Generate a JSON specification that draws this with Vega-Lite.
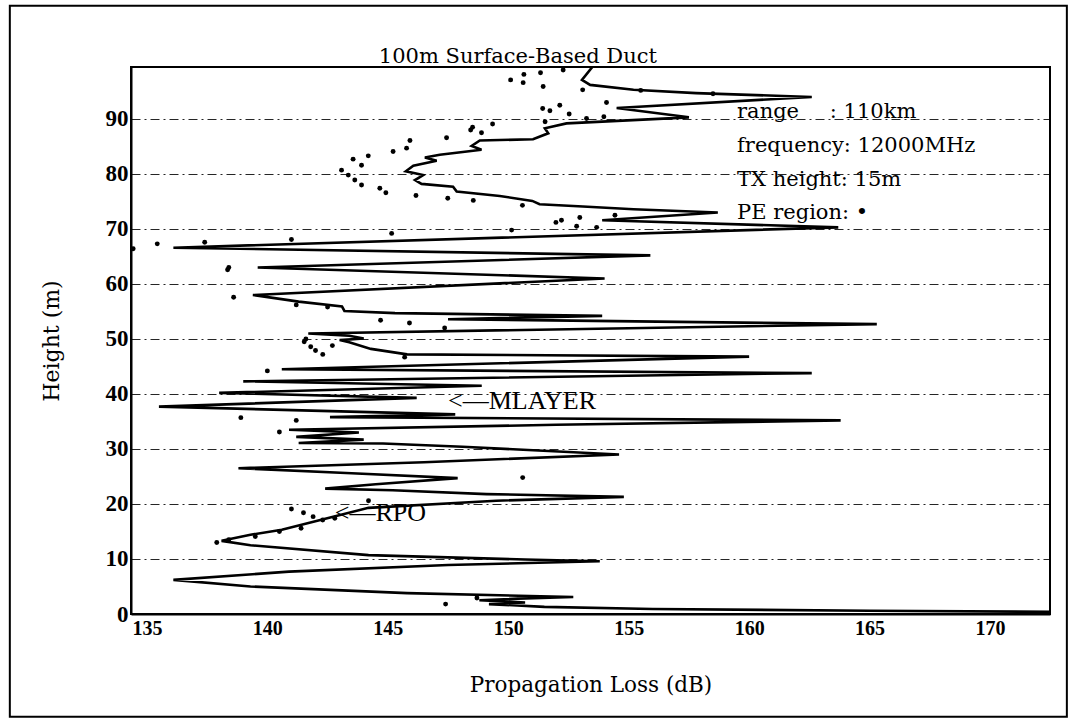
{
  "$schema": "https://vega.github.io/schema/vega-lite/v6.json",
  "width": 919,
  "height": 547,
  "autosize": {"type": "none"},
  "padding": {"left": 131, "top": 67, "right": 23, "bottom": 109},
  "background": "white",
  "config": {
    "font": "DejaVu Serif",
    "view": {"stroke": "black", "strokeWidth": 2},
    "axis": {"labelColor": "black", "titleColor": "black", "domainColor": "black", "tickColor": "black", "titleFontWeight": "normal"}
  },
  "datasets": {
    "curve": [
      {"s": 1, "loss": 176, "h": 0.3}, {"s": 2, "loss": 165, "h": 0.6}, {"s": 3, "loss": 156, "h": 0.9},
      {"s": 4, "loss": 151.5, "h": 1.3}, {"s": 5, "loss": 149.2, "h": 1.8}, {"s": 6, "loss": 150.7, "h": 2.1},
      {"s": 7, "loss": 148.8, "h": 2.5}, {"s": 8, "loss": 150.4, "h": 2.8}, {"s": 9, "loss": 152.7, "h": 3.1},
      {"s": 10, "loss": 145.8, "h": 3.8}, {"s": 11, "loss": 139.3, "h": 5.0}, {"s": 12, "loss": 136.1, "h": 6.2},
      {"s": 13, "loss": 140.9, "h": 7.7}, {"s": 14, "loss": 147.5, "h": 8.9}, {"s": 15, "loss": 153.8, "h": 9.6},
      {"s": 16, "loss": 150.7, "h": 9.9}, {"s": 17, "loss": 144.2, "h": 10.7}, {"s": 18, "loss": 139.3, "h": 12.5},
      {"s": 19, "loss": 138.1, "h": 13.3}, {"s": 20, "loss": 139.3, "h": 14.4}, {"s": 21, "loss": 140.6, "h": 15.3},
      {"s": 22, "loss": 142.2, "h": 17.1}, {"s": 23, "loss": 144.2, "h": 19.3}, {"s": 24, "loss": 149.5, "h": 20.6},
      {"s": 25, "loss": 154.8, "h": 21.3}, {"s": 26, "loss": 149.1, "h": 21.8}, {"s": 27, "loss": 145.2, "h": 22.5},
      {"s": 28, "loss": 142.4, "h": 22.8}, {"s": 29, "loss": 144.5, "h": 23.6}, {"s": 30, "loss": 147.9, "h": 24.7},
      {"s": 31, "loss": 143.5, "h": 25.6}, {"s": 32, "loss": 138.8, "h": 26.5}, {"s": 33, "loss": 146.5, "h": 27.6},
      {"s": 34, "loss": 154.6, "h": 29.0}, {"s": 35, "loss": 148.1, "h": 30.4}, {"s": 36, "loss": 144.8, "h": 31.0},
      {"s": 37, "loss": 141.3, "h": 31.1}, {"s": 38, "loss": 144.0, "h": 31.7}, {"s": 39, "loss": 141.2, "h": 32.2},
      {"s": 40, "loss": 143.8, "h": 33.0}, {"s": 41, "loss": 140.9, "h": 33.5}, {"s": 42, "loss": 152.0, "h": 34.4},
      {"s": 43, "loss": 163.8, "h": 35.2}, {"s": 44, "loss": 142.6, "h": 35.8}, {"s": 45, "loss": 147.8, "h": 36.3},
      {"s": 46, "loss": 135.5, "h": 37.7}, {"s": 47, "loss": 146.2, "h": 39.3}, {"s": 48, "loss": 138.0, "h": 40.2},
      {"s": 49, "loss": 148.9, "h": 41.5}, {"s": 50, "loss": 139.0, "h": 42.3}, {"s": 51, "loss": 162.6, "h": 43.8},
      {"s": 52, "loss": 140.6, "h": 44.5}, {"s": 53, "loss": 160.0, "h": 46.8}, {"s": 54, "loss": 145.8, "h": 47.2},
      {"s": 55, "loss": 144.3, "h": 48.2}, {"s": 56, "loss": 143.4, "h": 49.4}, {"s": 57, "loss": 143.0, "h": 49.8},
      {"s": 58, "loss": 144.0, "h": 50.1}, {"s": 59, "loss": 143.4, "h": 50.6}, {"s": 60, "loss": 141.7, "h": 51.0},
      {"s": 61, "loss": 165.3, "h": 52.7}, {"s": 62, "loss": 147.5, "h": 53.6}, {"s": 63, "loss": 153.9, "h": 54.2},
      {"s": 64, "loss": 145.3, "h": 54.7}, {"s": 65, "loss": 143.2, "h": 55.1}, {"s": 66, "loss": 143.1, "h": 55.9},
      {"s": 67, "loss": 141.3, "h": 56.8}, {"s": 68, "loss": 139.4, "h": 58.0}, {"s": 69, "loss": 154.0, "h": 61.0},
      {"s": 70, "loss": 139.6, "h": 63.0}, {"s": 71, "loss": 155.9, "h": 65.2}, {"s": 72, "loss": 136.1, "h": 66.6},
      {"s": 73, "loss": 163.7, "h": 70.3}, {"s": 74, "loss": 153.9, "h": 71.6}, {"s": 75, "loss": 158.7, "h": 73.0},
      {"s": 76, "loss": 155.2, "h": 73.6}, {"s": 77, "loss": 153.1, "h": 74.1}, {"s": 78, "loss": 151.3, "h": 74.5},
      {"s": 79, "loss": 151.0, "h": 75.1}, {"s": 80, "loss": 149.65, "h": 76.0}, {"s": 81, "loss": 147.86, "h": 76.8},
      {"s": 82, "loss": 147.71, "h": 77.7}, {"s": 83, "loss": 146.4, "h": 78.2}, {"s": 84, "loss": 146.13, "h": 78.9},
      {"s": 85, "loss": 146.47, "h": 79.8}, {"s": 86, "loss": 145.75, "h": 80.5}, {"s": 87, "loss": 146.06, "h": 81.5},
      {"s": 88, "loss": 147.03, "h": 82.4}, {"s": 89, "loss": 146.54, "h": 83.0}, {"s": 90, "loss": 147.16, "h": 83.5},
      {"s": 91, "loss": 148.89, "h": 84.4}, {"s": 92, "loss": 148.48, "h": 85.1}, {"s": 93, "loss": 148.82, "h": 86.1},
      {"s": 94, "loss": 151.03, "h": 86.3}, {"s": 95, "loss": 151.66, "h": 87.4}, {"s": 96, "loss": 151.52, "h": 88.3},
      {"s": 97, "loss": 152.42, "h": 89.2}, {"s": 98, "loss": 157.5, "h": 90.3}, {"s": 99, "loss": 154.5, "h": 92.0},
      {"s": 100, "loss": 162.6, "h": 94.0}, {"s": 101, "loss": 157.8, "h": 94.7}, {"s": 102, "loss": 155.2, "h": 95.3},
      {"s": 103, "loss": 153.4, "h": 96.2}, {"s": 104, "loss": 153.06, "h": 97.1}, {"s": 105, "loss": 153.5, "h": 99.5},
      {"s": 106, "loss": 154.5, "h": 101}
    ],
    "pe": [
      {"loss": 150.1, "h": 97.1}, {"loss": 150.65, "h": 98.1}, {"loss": 150.62, "h": 96.6}, {"loss": 151.34, "h": 98.4},
      {"loss": 151.45, "h": 95.9}, {"loss": 152.28, "h": 98.9}, {"loss": 153.09, "h": 95.3}, {"loss": 154.08, "h": 93.0},
      {"loss": 151.43, "h": 91.9}, {"loss": 151.73, "h": 91.5}, {"loss": 152.14, "h": 92.5}, {"loss": 152.53, "h": 90.9},
      {"loss": 153.25, "h": 90.1}, {"loss": 153.97, "h": 90.4}, {"loss": 151.53, "h": 89.5}, {"loss": 149.35, "h": 89.1},
      {"loss": 148.52, "h": 88.5}, {"loss": 148.44, "h": 88.0}, {"loss": 148.89, "h": 87.5}, {"loss": 147.44, "h": 86.6},
      {"loss": 145.92, "h": 86.1}, {"loss": 145.78, "h": 84.7}, {"loss": 145.22, "h": 84.1}, {"loss": 144.19, "h": 83.3},
      {"loss": 143.56, "h": 82.7}, {"loss": 143.91, "h": 81.6}, {"loss": 143.08, "h": 80.7}, {"loss": 143.36, "h": 79.8},
      {"loss": 143.63, "h": 78.9}, {"loss": 143.91, "h": 78.0}, {"loss": 144.67, "h": 77.4}, {"loss": 144.92, "h": 76.6},
      {"loss": 146.17, "h": 76.1}, {"loss": 147.49, "h": 75.6}, {"loss": 148.55, "h": 75.2}, {"loss": 150.59, "h": 74.3},
      {"loss": 151.98, "h": 71.2}, {"loss": 152.21, "h": 71.6}, {"loss": 152.97, "h": 72.1}, {"loss": 152.84, "h": 70.5},
      {"loss": 153.67, "h": 70.3}, {"loss": 154.43, "h": 72.5}, {"loss": 150.14, "h": 69.8}, {"loss": 145.16, "h": 69.2},
      {"loss": 155.5, "h": 95.2}, {"loss": 158.5, "h": 94.6},
      {"loss": 134.43, "h": 66.4}, {"loss": 135.43, "h": 67.3}, {"loss": 137.4, "h": 67.6}, {"loss": 141.0, "h": 68.1},
      {"loss": 138.4, "h": 63.0}, {"loss": 138.35, "h": 62.6}, {"loss": 138.6, "h": 57.6}, {"loss": 141.2, "h": 56.2},
      {"loss": 142.5, "h": 55.8}, {"loss": 144.7, "h": 53.4}, {"loss": 145.9, "h": 52.9}, {"loss": 147.36, "h": 52.0},
      {"loss": 141.6, "h": 50.0}, {"loss": 141.53, "h": 49.5}, {"loss": 141.8, "h": 48.6}, {"loss": 142.0, "h": 47.9},
      {"loss": 142.3, "h": 47.2}, {"loss": 142.7, "h": 48.8}, {"loss": 140.0, "h": 44.2}, {"loss": 145.7, "h": 46.7},
      {"loss": 138.9, "h": 35.7}, {"loss": 141.2, "h": 35.2}, {"loss": 140.5, "h": 33.1}, {"loss": 150.6, "h": 24.8},
      {"loss": 144.2, "h": 20.6}, {"loss": 141.0, "h": 19.1}, {"loss": 141.5, "h": 18.4}, {"loss": 141.9, "h": 17.7},
      {"loss": 142.3, "h": 17.1}, {"loss": 142.8, "h": 17.4}, {"loss": 147.4, "h": 1.8}, {"loss": 148.7, "h": 2.9},
      {"loss": 137.9, "h": 13.0}, {"loss": 138.4, "h": 13.5}, {"loss": 139.5, "h": 14.1}, {"loss": 140.5, "h": 15.0},
      {"loss": 141.4, "h": 15.6}
    ],
    "notes": [
      {"label": "range", "x": 159.5, "y": 91.3},
      {"label": ": 110km", "x": 163.35, "y": 91.3},
      {"label": "frequency: 12000MHz", "x": 159.5, "y": 85.0},
      {"label": "TX height: 15m", "x": 159.5, "y": 78.9},
      {"label": "PE region: •", "x": 159.5, "y": 72.85}
    ],
    "markers": [
      {"label": "<—MLAYER", "x": 147.5, "y": 38.7},
      {"label": "<—RPO", "x": 142.8, "y": 18.3}
    ],
    "heading": [
      {"label": "100m Surface-Based Duct", "x": 150.4, "y": 101.2}
    ]
  },
  "layer": [
    {
      "data": {"name": "curve"},
      "mark": {"type": "line", "color": "black", "strokeWidth": 2.6, "clip": true},
      "encoding": {
        "x": {
          "field": "loss", "type": "quantitative",
          "scale": {"domain": [134.34, 172.49], "nice": false, "zero": false},
          "axis": {
            "title": "Propagation Loss (dB)", "values": [135, 140, 145, 150, 155, 160, 165, 170],
            "grid": false, "ticks": false, "domainWidth": 2,
            "labelFont": "Liberation Serif", "labelFontWeight": "bold", "labelFontSize": 20, "labelPadding": 4,
            "labelFlush": false, "titleFontSize": 21.5, "titlePadding": 36
          }
        },
        "y": {
          "field": "h", "type": "quantitative",
          "scale": {"domain": [0, 99.45], "nice": false},
          "axis": {
            "title": "Height (m)", "values": [0, 10, 20, 30, 40, 50, 60, 70, 80, 90],
            "grid": true, "gridColor": "black", "gridDash": [9, 4, 2, 4], "gridWidth": 1, "gridOpacity": 0.85,
            "ticks": false, "domainWidth": 2,
            "labelFont": "Liberation Serif", "labelFontWeight": "bold", "labelFontSize": 23, "labelPadding": 3, "labelFlush": false,
            "titleFontSize": 22, "titlePadding": 42
          }
        },
        "order": {"field": "s", "type": "quantitative"}
      }
    },
    {
      "data": {"name": "pe"},
      "mark": {"type": "circle", "color": "black", "size": 24, "opacity": 1, "clip": true},
      "encoding": {
        "x": {"field": "loss", "type": "quantitative"},
        "y": {"field": "h", "type": "quantitative"}
      }
    },
    {
      "data": {"name": "notes"},
      "mark": {"type": "text", "align": "left", "baseline": "middle", "fontSize": 21, "color": "black"},
      "encoding": {
        "x": {"field": "x", "type": "quantitative"},
        "y": {"field": "y", "type": "quantitative"},
        "text": {"field": "label"}
      }
    },
    {
      "data": {"name": "markers"},
      "mark": {"type": "text", "align": "left", "baseline": "middle", "font": "Liberation Serif", "fontSize": 26, "color": "black"},
      "encoding": {
        "x": {"field": "x", "type": "quantitative"},
        "y": {"field": "y", "type": "quantitative"},
        "text": {"field": "label"}
      }
    },
    {
      "data": {"name": "heading"},
      "mark": {"type": "text", "align": "center", "baseline": "middle", "fontSize": 21, "color": "black", "clip": false},
      "encoding": {
        "x": {"field": "x", "type": "quantitative"},
        "y": {"field": "y", "type": "quantitative"},
        "text": {"field": "label"}
      }
    },
    {
      "data": {"values": [{}]},
      "mark": {"type": "rect", "filled": false, "stroke": "black", "strokeWidth": 2, "clip": false},
      "encoding": {
        "x": {"datum": 129.31, "type": "quantitative"},
        "x2": {"datum": 173.19},
        "y": {"datum": -18.7, "type": "quantitative"},
        "y2": {"datum": 110.6}
      }
    }
  ]
}
